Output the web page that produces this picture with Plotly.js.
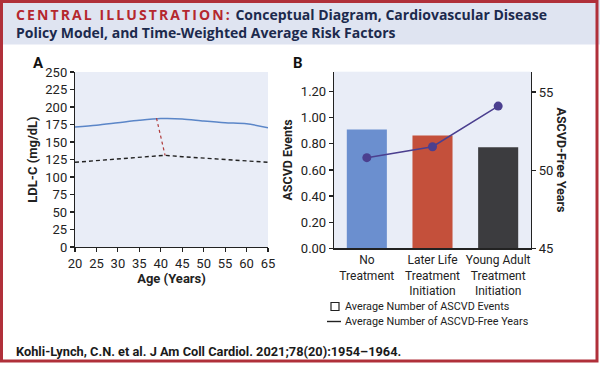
<!DOCTYPE html>
<html><head><meta charset="utf-8">
<script src="https://cdn.plot.ly/plotly-3.0.1.min.js"></script>
<style>html,body{margin:0;padding:0;background:#fff}#chart{width:600px;height:371px}</style>
</head><body><div id="chart"></div>
<script>
// Panel A data
var ages = [20, 25, 30, 35, 40, 45, 50, 55, 60, 65];
var ldlUntreated = [171.5, 174, 177.5, 181, 183.5, 183, 180, 177.5, 176, 170.5];
var treatedAges = [20, 25, 30, 35, 41, 45, 50, 55, 60, 65];
var ldlTreated = [121, 123.4, 125.8, 128.1, 131, 129, 127, 125, 123, 121];
var transitionAges = [39, 41];
var transitionLdl = [184, 131];
var ageTicks = [20, 25, 30, 35, 40, 45, 50, 55, 60, 65];
var ldlTicks = [0, 25, 50, 75, 100, 125, 150, 175, 200, 225, 250];
// Panel B data
var treatments = ["No<br>Treatment", "Later Life<br>Treatment<br>Initiation", "Young Adult<br>Treatment<br>Initiation"];
var ascvdEvents = [0.91, 0.865, 0.775];
var ascvdFreeYears = [50.8, 51.5, 54.1];
var barColors = ["#6b8fcf", "#c4503b", "#3c3c3f"];
var eventTicks = [0, 0.2, 0.4, 0.6, 0.8, 1.0, 1.2];
var freeYearTicks = [45, 50, 55];

var W = 600, H = 371;
function px(x){return x / W;}
function py(y){return 1 - y / H;}
var FONT = "Roboto, 'Open Sans', sans-serif";
var TFONT = "'Open Sans', Roboto, sans-serif";
var ink = "#222";

var traces = [
  {x: ages, y: ldlUntreated, type: "scatter", mode: "lines", line: {color: "#5b86c8", width: 1.5, shape: "spline", smoothing: 0.8}, xaxis: "x", yaxis: "y", hoverinfo: "skip"},
  {x: treatedAges, y: ldlTreated, type: "scatter", mode: "lines", line: {color: "#222", width: 1.4, dash: "4px,3px"}, xaxis: "x", yaxis: "y", hoverinfo: "skip"},
  {x: transitionAges, y: transitionLdl, type: "scatter", mode: "lines", line: {color: "#b03a3a", width: 1.2, dash: "dot"}, xaxis: "x", yaxis: "y", hoverinfo: "skip"},
  {x: treatments, y: ascvdEvents, type: "bar", marker: {color: barColors}, width: 0.61, xaxis: "x2", yaxis: "y2", hoverinfo: "skip"},
  {x: treatments, y: ascvdFreeYears, type: "scatter", mode: "lines+markers", line: {color: "#4b3f8f", width: 1.5}, marker: {color: "#4b3f8f", size: 9}, xaxis: "x2", yaxis: "y3", hoverinfo: "skip"}
];

var axisCommon = {showgrid: false, zeroline: false, showline: true, linecolor: "#222", linewidth: 1.2, ticks: "outside", ticklen: 4, tickcolor: "#222", tickwidth: 1.2, tickfont: {family: FONT, size: 13, color: ink}};

var layout = {
  width: W, height: H,
  margin: {l: 0, r: 0, t: 0, b: 0},
  paper_bgcolor: "#ffffff",
  plot_bgcolor: "#e9edf7",
  showlegend: false,
  font: {family: FONT, color: ink},
  xaxis: Object.assign({}, axisCommon, {domain: [px(75), px(268)], range: [20, 65], tickvals: ageTicks, anchor: "y",
    title: {text: "<b>Age (Years)</b>", font: {family: FONT, size: 13, color: ink}, standoff: 3}}),
  yaxis: Object.assign({}, axisCommon, {domain: [py(247), py(72)], range: [0, 250], tickvals: ldlTicks, anchor: "x",
    title: {text: "<b>LDL-C (mg/dL)</b>", font: {family: FONT, size: 13, color: ink}, standoff: 4}}),
  xaxis2: Object.assign({}, axisCommon, {domain: [px(334), px(531)], anchor: "y2", ticks: "", tickfont: {family: FONT, size: 12, color: ink}}),
  yaxis2: Object.assign({}, axisCommon, {domain: [py(248.3), py(71.7)], range: [0, 1.353], tickvals: eventTicks, tickformat: ".2f", anchor: "x2",
    title: {text: "<b>ASCVD Events</b>", font: {family: FONT, size: 12.5, color: ink}, standoff: 5}}),
  yaxis3: Object.assign({}, axisCommon, {overlaying: "y2", side: "right", anchor: "x2", range: [45, 56.3], tickvals: freeYearTicks}),
  shapes: [
    {type: "rect", xref: "paper", yref: "paper", x0: 0, x1: 1, y0: py(44.5), y1: 1, fillcolor: "#dfe4f1", line: {width: 0}, layer: "below"},
    {type: "rect", xref: "paper", yref: "paper", x0: px(1.5), x1: px(597), y0: py(361), y1: py(1.5), fillcolor: "rgba(0,0,0,0)", line: {color: "#b0303a", width: 3}},
    {type: "rect", xref: "paper", yref: "paper", x0: px(331), x1: px(339), y0: py(310.5), y1: py(302.5), line: {color: "#222", width: 1.2}},
    {type: "line", xref: "paper", yref: "paper", x0: px(327), x1: px(341), y0: py(321.5), y1: py(321.5), line: {color: "#222", width: 1.4}}
  ],
  annotations: [
    {xref: "paper", yref: "paper", x: px(14), y: py(23.8), xanchor: "left", yanchor: "middle", align: "left", showarrow: false,
     text: "<b><span style='color:#b5282e;letter-spacing:2.1px'>CENTRAL ILLUSTRATION:</span> Conceptual Diagram, Cardiovascular Disease<br>Policy Model, and Time-Weighted Average Risk Factors</b>",
     font: {family: TFONT, size: 14, color: "#1c2a4d"}},
    {xref: "paper", yref: "paper", x: px(38.5), y: py(63), xanchor: "center", yanchor: "middle", showarrow: false, text: "<b>A</b>", font: {family: FONT, size: 15, color: "#111"}},
    {xref: "paper", yref: "paper", x: px(298), y: py(63), xanchor: "center", yanchor: "middle", showarrow: false, text: "<b>B</b>", font: {family: FONT, size: 15, color: "#111"}},
    {xref: "paper", yref: "paper", x: px(561.5), y: py(160), xanchor: "center", yanchor: "middle", showarrow: false, textangle: 90, text: "<b>ASCVD-Free Years</b>", font: {family: FONT, size: 12.5, color: ink}},
    {xref: "paper", yref: "paper", x: px(343), y: py(306.5), xanchor: "left", yanchor: "middle", showarrow: false, text: "Average Number of ASCVD Events", font: {family: FONT, size: 10.8, color: ink}},
    {xref: "paper", yref: "paper", x: px(343), y: py(321.5), xanchor: "left", yanchor: "middle", showarrow: false, text: "Average Number of ASCVD-Free Years", font: {family: FONT, size: 10.8, color: ink}},
    {xref: "paper", yref: "paper", x: px(14), y: py(351), xanchor: "left", yanchor: "middle", showarrow: false, text: "<b>Kohli-Lynch, C.N. et al. J Am Coll Cardiol. 2021;78(20):1954–1964.</b>", font: {family: FONT, size: 12.8, color: "#1a1a1a"}}
  ]
};

Plotly.newPlot("chart", traces, layout, {staticPlot: true, displayModeBar: false});
</script></body></html>
